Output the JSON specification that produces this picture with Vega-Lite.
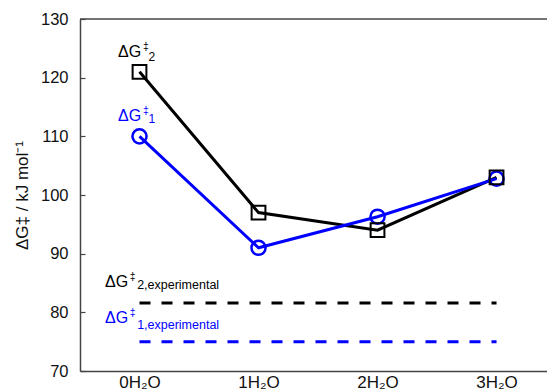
{
  "$schema": "https://vega.github.io/schema/vega-lite/v6.json",
  "width": 467,
  "height": 352,
  "autosize": "none",
  "padding": {"left": 80, "top": 19, "right": 0, "bottom": 21},
  "background": "white",
  "config": {
    "view": {"stroke": null},
    "font": "Liberation Sans",
    "axis": {"grid": false, "domainColor": "#444", "domainWidth": 1.5, "tickColor": "#444", "tickWidth": 1.2, "labelFont": "Liberation Sans", "labelFontSize": 16.5, "labelColor": "#111", "titleFont": "Liberation Sans", "titleFontSize": 17, "titleFontWeight": "normal", "titleColor": "#111"}
  },
  "datasets": {
    "lines": [
      {"n": 0, "series": "g2", "value": 121},
      {"n": 1, "series": "g2", "value": 97},
      {"n": 2, "series": "g2", "value": 94},
      {"n": 3, "series": "g2", "value": 103},
      {"n": 0, "series": "g1", "value": 110},
      {"n": 1, "series": "g1", "value": 91},
      {"n": 2, "series": "g1", "value": 96.3},
      {"n": 3, "series": "g1", "value": 102.8}
    ],
    "exp": [
      {"n": 0, "series": "g2", "value": 81.6},
      {"n": 3, "series": "g2", "value": 81.6},
      {"n": 0, "series": "g1", "value": 75.0},
      {"n": 3, "series": "g1", "value": 75.0}
    ],
    "labels": [
      {"n": -0.181, "value": 123.57, "text": "ΔG", "series": "g2", "kind": "main"},
      {"n": 0.03, "value": 124.7, "text": "‡", "series": "g2", "kind": "sup"},
      {"n": 0.075, "value": 122.89, "text": "2", "series": "g2", "kind": "sub"},
      {"n": -0.181, "value": 112.67, "text": "ΔG", "series": "g1", "kind": "main"},
      {"n": 0.03, "value": 113.8, "text": "‡", "series": "g1", "kind": "sup"},
      {"n": 0.075, "value": 112.27, "text": "1", "series": "g1", "kind": "sub"},
      {"n": -0.29, "value": 84.37, "text": "ΔG", "series": "g2", "kind": "main"},
      {"n": -0.083, "value": 85.5, "text": "‡", "series": "g2", "kind": "sup"},
      {"n": -0.02, "value": 83.98, "text": "2,experimental", "series": "g2", "kind": "sub2"},
      {"n": -0.29, "value": 78.18, "text": "ΔG", "series": "g1", "kind": "main"},
      {"n": -0.083, "value": 79.3, "text": "‡", "series": "g1", "kind": "sup"},
      {"n": -0.02, "value": 77.16, "text": "1,experimental", "series": "g1", "kind": "sub2"}
    ]
  },
  "layer": [
    {
      "data": {"values": [{"value": 130}]},
      "mark": {"type": "rule", "color": "#444", "strokeWidth": 1.5},
      "encoding": {"y": {"field": "value", "type": "quantitative"}}
    },
    {
      "data": {"name": "exp"},
      "mark": {"type": "line", "strokeWidth": 3, "strokeDash": [11, 11]},
      "encoding": {
        "x": {"field": "n", "type": "quantitative"},
        "y": {"field": "value", "type": "quantitative"},
        "detail": {"field": "series"},
        "color": {"field": "series", "type": "nominal", "scale": {"domain": ["g1", "g2"], "range": ["#0000ff", "#000000"]}, "legend": null}
      }
    },
    {
      "data": {"name": "lines"},
      "mark": {"type": "line", "strokeWidth": 3},
      "encoding": {
        "x": {"field": "n", "type": "quantitative",
          "scale": {"domain": [-0.5, 3.424], "nice": false, "zero": false},
          "axis": {"values": [0, 1, 2, 3], "labelExpr": "datum.value + 'H₂O'", "ticks": false, "title": null, "labelPadding": 3, "labelFontSize": 17}
        },
        "y": {"field": "value", "type": "quantitative",
          "scale": {"domain": [70, 130], "nice": false, "zero": false},
          "axis": {"values": [70, 75, 80, 85, 90, 95, 100, 105, 110, 115, 120, 125, 130], "labelExpr": "datum.value % 10 == 0 ? datum.label : ''", "tickSize": -5, "labelPadding": 17, "title": "ΔG‡ / kJ mol⁻¹", "titlePadding": 9}
        },
        "color": {"field": "series", "type": "nominal", "scale": {"domain": ["g1", "g2"], "range": ["#0000ff", "#000000"]}, "legend": null}
      }
    },
    {
      "data": {"name": "lines"},
      "transform": [{"filter": "datum.series == 'g1'"}],
      "mark": {"type": "point", "shape": "circle", "size": 200, "strokeWidth": 2.5, "filled": false, "color": "#0000ff", "opacity": 1},
      "encoding": {
        "x": {"field": "n", "type": "quantitative"},
        "y": {"field": "value", "type": "quantitative"}
      }
    },
    {
      "data": {"name": "lines"},
      "transform": [{"filter": "datum.series == 'g2'"}],
      "mark": {"type": "point", "shape": "square", "size": 190, "strokeWidth": 2, "filled": false, "color": "#000000", "opacity": 1},
      "encoding": {
        "x": {"field": "n", "type": "quantitative"},
        "y": {"field": "value", "type": "quantitative"}
      }
    },
    {
      "data": {"name": "labels"},
      "transform": [{"filter": "datum.kind == 'main'"}],
      "mark": {"type": "text", "align": "left", "baseline": "alphabetic", "fontSize": 16},
      "encoding": {
        "x": {"field": "n", "type": "quantitative"},
        "y": {"field": "value", "type": "quantitative"},
        "text": {"field": "text"},
        "color": {"field": "series", "type": "nominal", "scale": {"domain": ["g1", "g2"], "range": ["#0000ff", "#000000"]}, "legend": null}
      }
    },
    {
      "data": {"name": "labels"},
      "transform": [{"filter": "datum.kind == 'sup'"}],
      "mark": {"type": "text", "align": "left", "baseline": "alphabetic", "fontSize": 10.5},
      "encoding": {
        "x": {"field": "n", "type": "quantitative"},
        "y": {"field": "value", "type": "quantitative"},
        "text": {"field": "text"},
        "color": {"field": "series", "type": "nominal", "scale": {"domain": ["g1", "g2"], "range": ["#0000ff", "#000000"]}, "legend": null}
      }
    },
    {
      "data": {"name": "labels"},
      "transform": [{"filter": "datum.kind == 'sub'"}],
      "mark": {"type": "text", "align": "left", "baseline": "alphabetic", "fontSize": 12},
      "encoding": {
        "x": {"field": "n", "type": "quantitative"},
        "y": {"field": "value", "type": "quantitative"},
        "text": {"field": "text"},
        "color": {"field": "series", "type": "nominal", "scale": {"domain": ["g1", "g2"], "range": ["#0000ff", "#000000"]}, "legend": null}
      }
    },
    {
      "data": {"name": "labels"},
      "transform": [{"filter": "datum.kind == 'sub2'"}],
      "mark": {"type": "text", "align": "left", "baseline": "alphabetic", "fontSize": 12.5},
      "encoding": {
        "x": {"field": "n", "type": "quantitative"},
        "y": {"field": "value", "type": "quantitative"},
        "text": {"field": "text"},
        "color": {"field": "series", "type": "nominal", "scale": {"domain": ["g1", "g2"], "range": ["#0000ff", "#000000"]}, "legend": null}
      }
    }
  ]
}
